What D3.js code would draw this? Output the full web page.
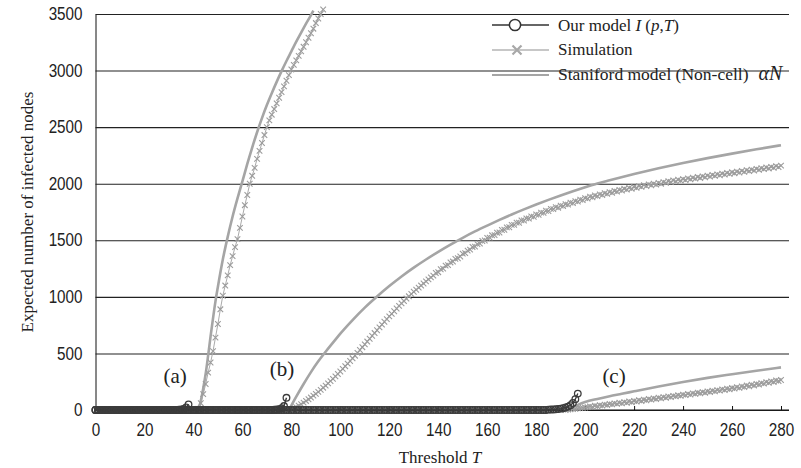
<!DOCTYPE html>
<html>
<head>
<meta charset="utf-8">
<script src="https://cdn.jsdelivr.net/npm/d3@7"></script>
<style>
  body { margin: 0; background: #fff; }
  .tick text { font-family: "Liberation Sans", Arial, sans-serif; font-size: 17.5px; fill: #222; }
  .serif { font-family: "Liberation Serif", "Times New Roman", serif; fill: #222; }
</style>
</head>
<body>
<svg id="chart" width="801" height="468"></svg>
<script>
// axis ticks
const xTicks = [0, 20, 40, 60, 80, 100, 120, 140, 160, 180, 200, 220, 240, 260, 280];
const yTicks = [0, 500, 1000, 1500, 2000, 2500, 3000, 3500];

// Our model I(p,T), one value per integer T starting at T = 0
const modelA = [
  0,0,0,0,0,0,0,0,0,0, 0,0,0,0,0,0,0,0,0,0, 0,0,0,0,0,0,0,0,0,0, 0,0,0,0,2,5,10,22,50
];
const modelB = [
  0,0,0,0,0,0,0,0,0,0, 0,0,0,0,0,0,0,0,0,0, 0,0,0,0,0,0,0,0,0,0, 0,0,0,0,0,0,0,0,0,0,
  0,0,0,0,0,0,0,0,0,0, 0,0,0,0,0,0,0,0,0,0, 0,0,0,0,0,0,0,0,0,0, 0,0,0,2,4,8,15,35,108
];
const modelC = [
  0,0,0,0,0,0,0,0,0,0, 0,0,0,0,0,0,0,0,0,0, 0,0,0,0,0,0,0,0,0,0, 0,0,0,0,0,0,0,0,0,0,
  0,0,0,0,0,0,0,0,0,0, 0,0,0,0,0,0,0,0,0,0, 0,0,0,0,0,0,0,0,0,0, 0,0,0,0,0,0,0,0,0,0,
  0,0,0,0,0,0,0,0,0,0, 0,0,0,0,0,0,0,0,0,0, 0,0,0,0,0,0,0,0,0,0, 0,0,0,0,0,0,0,0,0,0,
  0,0,0,0,0,0,0,0,0,0, 0,0,0,0,0,0,0,0,0,0, 0,0,0,0,0,0,0,0,0,0, 0,0,0,0,0,0,0,0,0,0,
  0,0,0,0,0,0,0,0,0,0, 0,0,0,0,0,0,0,0,0,0, 0,0,0,0,0,3,4,5,7,9, 12,16,22,30,42,62,95,145
];

// Simulation, one value per integer T from the start T
const simAStart = 42;
const simA = [
  10,60,140,230,330,420,520,640,760,890,
  1010,1100,1190,1280,1360,1440,1510,1610,1710,1810,
  1900,2000,2070,2140,2220,2290,2360,2430,2500,2560,
  2610,2660,2710,2760,2810,2860,2910,2960,3010,3050,
  3090,3130,3170,3210,3250,3290,3330,3370,3420,3460,
  3500,3540
];
const simBStart = 79;
const simB = [
  0,8,16,25,38,51,65,80,95,110,
  127,143,160,178,197,215,235,255,275,297,
  318,340,363,387,410,433,457,480,505,530,
  555,580,605,630,655,680,705,730,755,780,
  803,827,850,873,897,920,942,963,985,1005,
  1025,1045,1063,1082,1100,1118,1137,1155,1172,1188,
  1211,1218,1244,1249,1276,1281,1304,1312,1336,1341,
  1357,1382,1386,1409,1417,1441,1444,1466,1471,1494,
  1498,1521,1523,1544,1546,1567,1569,1591,1593,1614,
  1615,1636,1636,1656,1655,1676,1675,1694,1692,1711,
  1708,1728,1725,1744,1742,1761,1758,1778,1775,1793,
  1788,1806,1802,1819,1815,1833,1828,1846,1842,1859,
  1855,1873,1868,1886,1880,1896,1890,1906,1900,1916,
  1910,1926,1920,1936,1930,1946,1940,1955,1948,1963,
  1956,1971,1964,1979,1972,1987,1980,1994,1986,2000,
  1992,2006,1999,2014,2007,2022,2015,2029,2021,2035,
  2027,2041,2033,2047,2039,2053,2045,2059,2051,2065,
  2057,2071,2063,2077,2069,2083,2075,2089,2081,2095,
  2087,2101,2093,2107,2099,2113,2105,2119,2111,2125,
  2117,2131,2123,2137,2129,2143,2135,2149,2141,2155,
  2147,2160
];
const simCStart = 192;
const simC = [
  0,3,6,8,11,14,17,19,22,25,
  31,28,37,33,42,39,48,44,53,50,
  59,54,64,59,70,64,75,69,80,75,
  86,80,91,86,97,92,102,97,108,103,
  114,108,119,114,125,120,130,125,136,131,
  142,136,147,142,153,148,158,153,164,159,
  170,165,176,171,182,177,188,183,194,190,
  201,196,208,203,216,210,223,217,230,225,
  238,233,246,240,253,248,261,256,265
];

// Staniford model (Non-cell), read at selected T
const stanAT = [42, 43, 44, 45, 46, 47, 48, 49, 50, 52, 54, 56, 58, 60, 62, 64, 66, 68, 70, 72, 74, 76, 78, 80, 82, 84, 86, 88, 89];
const stanAV = [0, 80, 190, 320, 480, 650, 810, 960, 1090, 1330, 1530, 1710, 1870, 2020, 2175, 2320, 2455, 2580, 2695, 2800, 2900, 2995, 3085, 3170, 3255, 3335, 3415, 3490, 3530];
const stanBT = [79, 82, 85, 88, 91, 94, 97, 100, 105, 110, 115, 120, 125, 130, 135, 140, 145, 150, 155, 160, 165, 170, 175, 180, 185, 190, 195, 200, 205, 210, 220, 230, 240, 250, 260, 270, 280];
const stanBV = [0, 118, 230, 335, 430, 515, 595, 675, 795, 905, 1003, 1095, 1180, 1258, 1330, 1398, 1462, 1522, 1578, 1630, 1680, 1728, 1773, 1816, 1857, 1896, 1933, 1968, 2001, 2030, 2085, 2136, 2183, 2226, 2266, 2304, 2340];
const stanCT = [192, 195, 197, 200, 205, 210, 215, 220, 230, 240, 250, 260, 270, 280];
const stanCV = [0, 25, 45, 70, 98, 122, 143, 165, 208, 248, 284, 316, 347, 377];

const caseLabels = [
  { text: "(a)", T: 32.5, v: 239 },
  { text: "(b)", T: 76.2, v: 300 },
  { text: "(c)", T: 211.8, v: 239 },
];

const svg = d3.select("#chart");
svg.append("rect").attr("width", 801).attr("height", 468).attr("fill", "#fff");

const x = d3.scaleLinear().domain([0, 280]).range([95.5, 781]);
const y = d3.scaleLinear().domain([0, 3500]).range([410, 14]);
const plotRight = 789;
const squeeze = 0.87;

// gridlines + y labels
const yAxis = svg
  .append("g")
  .attr("transform", `translate(${x(0)},0)`)
  .call(
    d3.axisLeft(y)
      .tickValues(yTicks)
      .tickFormat(d3.format("d"))
      .tickSizeInner(-(plotRight - x(0)))
      .tickSizeOuter(0)
      .tickPadding(13)
  );
yAxis.select(".domain").attr("stroke", "#111");
yAxis.selectAll(".tick line").attr("stroke", "#222").attr("stroke-width", 1.1);
yAxis.selectAll(".tick text")
  .attr("x", -13 / squeeze)
  .attr("transform", `scale(${squeeze},1)`);

// x axis
const xAxis = svg
  .append("g")
  .attr("transform", `translate(0,${y(0)})`)
  .call(
    d3.axisBottom(x)
      .tickValues(xTicks)
      .tickFormat(d3.format("d"))
      .tickSizeInner(-4)
      .tickSizeOuter(0)
      .tickPadding(14)
  );
xAxis.select(".domain").remove();
xAxis.selectAll(".tick line").attr("stroke", "#111");
xAxis.selectAll(".tick text").attr("transform", `scale(${squeeze},1)`);
svg.append("line")
  .attr("x1", x(0)).attr("x2", plotRight)
  .attr("y1", y(0)).attr("y2", y(0))
  .attr("stroke", "#111").attr("stroke-width", 1.2);

// Staniford lines
const stanLine = d3.line()
  .curve(d3.curveMonotoneX)
  .x((d) => x(d[0]))
  .y((d) => y(d[1]));
[[stanAT, stanAV], [stanBT, stanBV], [stanCT, stanCV]].forEach(([ts, vs]) => {
  svg.append("path")
    .datum(ts.map((t, i) => [t, vs[i]]))
    .attr("fill", "none")
    .attr("stroke", "#a5a5a5")
    .attr("stroke-width", 2.6)
    .attr("d", stanLine);
});

// Simulation
const ptLine = d3.line().x((d) => x(d[0])).y((d) => y(d[1]));
const cross = (s) => `M${-s},${-s}L${s},${s}M${-s},${s}L${s},${-s}`;
[[simAStart, simA], [simBStart, simB], [simCStart, simC]].forEach(([t0, vs]) => {
  const pts = vs.map((v, i) => [t0 + i, v]);
  svg.append("path")
    .datum(pts)
    .attr("fill", "none")
    .attr("stroke", "#aaa")
    .attr("stroke-width", 1)
    .attr("d", ptLine);
  svg.append("g")
    .selectAll("path")
    .data(pts)
    .join("path")
    .attr("transform", (d) => `translate(${x(d[0])},${y(d[1])})`)
    .attr("d", cross(2.8))
    .attr("stroke", "#9c9c9c")
    .attr("stroke-width", 1.1)
    .attr("fill", "none");
});

// Our model
[modelA, modelB, modelC].forEach((vs) => {
  const pts = vs.map((v, i) => [i, v]);
  svg.append("path")
    .datum(pts)
    .attr("fill", "none")
    .attr("stroke", "#3a3a3a")
    .attr("stroke-width", 1.4)
    .attr("d", ptLine);
  svg.append("g")
    .selectAll("circle")
    .data(pts)
    .join("circle")
    .attr("cx", (d) => x(d[0]))
    .attr("cy", (d) => y(d[1]))
    .attr("r", 3.3)
    .attr("fill", "none")
    .attr("stroke", "#3c3c3c")
    .attr("stroke-width", 1.3);
});

// case labels
svg.selectAll(".case")
  .data(caseLabels)
  .join("text")
  .attr("class", "serif")
  .attr("x", (d) => x(d.T))
  .attr("y", (d) => y(d.v))
  .attr("text-anchor", "middle")
  .style("font-size", "21px")
  .text((d) => d.text);

// axis titles
const xt = svg.append("text")
  .attr("class", "serif")
  .attr("x", 440)
  .attr("y", 463)
  .attr("text-anchor", "middle")
  .style("font-size", "17px");
xt.append("tspan").text("Threshold ");
xt.append("tspan").style("font-style", "italic").text("T");

svg.append("text")
  .attr("class", "serif")
  .attr("transform", "translate(33,212) rotate(-90)")
  .attr("text-anchor", "middle")
  .style("font-size", "17px")
  .text("Expected number of infected nodes");

// legend
const lg = svg.append("g");
const lx0 = 492, lx1 = 549, tx = 558;
lg.append("line").attr("x1", lx0).attr("x2", lx1).attr("y1", 25).attr("y2", 25)
  .attr("stroke", "#333").attr("stroke-width", 1.6);
lg.append("circle").attr("cx", 515).attr("cy", 25).attr("r", 5.6)
  .attr("fill", "#fff").attr("stroke", "#333").attr("stroke-width", 1.5);
lg.append("line").attr("x1", lx0).attr("x2", lx1).attr("y1", 50).attr("y2", 50)
  .attr("stroke", "#b5b5b5").attr("stroke-width", 1.6);
lg.append("path").attr("transform", "translate(517,50)").attr("d", cross(4.5))
  .attr("stroke", "#a8a8a8").attr("stroke-width", 2.2).attr("fill", "none");
lg.append("line").attr("x1", lx0).attr("x2", lx1).attr("y1", 75).attr("y2", 75)
  .attr("stroke", "#a5a5a5").attr("stroke-width", 2);

const t1 = lg.append("text").attr("class", "serif").attr("x", tx).attr("y", 31).style("font-size", "17px");
t1.append("tspan").text("Our model ");
t1.append("tspan").style("font-style", "italic").text("I");
t1.append("tspan").text(" (");
t1.append("tspan").style("font-style", "italic").text("p");
t1.append("tspan").text(",");
t1.append("tspan").style("font-style", "italic").text("T");
t1.append("tspan").text(")");
lg.append("text").attr("class", "serif").attr("x", tx).attr("y", 55).style("font-size", "17px").text("Simulation");
const t3 = lg.append("text").attr("class", "serif").attr("x", tx).attr("y", 80).style("font-size", "17.5px");
t3.append("tspan").text("Staniford model (Non-cell)");
t3.append("tspan").attr("dx", 10).style("font-size", "20px").style("font-style", "italic").text("\u03b1N");
</script>
</body>
</html>
